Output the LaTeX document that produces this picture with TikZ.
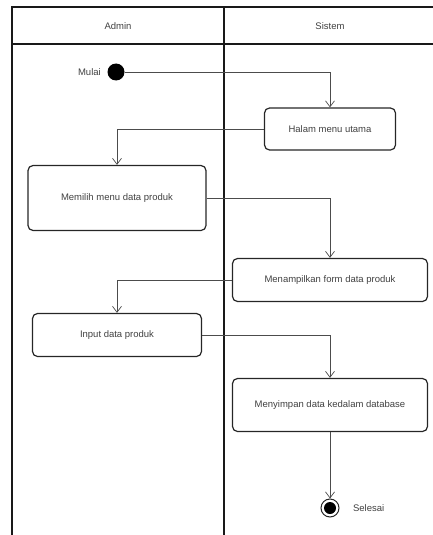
\documentclass[tikz,border=0pt]{standalone}
\usepackage{fontspec}
\setmainfont{Liberation Sans}
\usetikzlibrary{arrows.meta,positioning}

\begin{document}
\begin{tikzpicture}[x=1pt,y=-1pt,
    every node/.style={font=\fontsize{9.5}{11}\selectfont,text=black!75},
    act/.style={draw=black!85,rounded corners=5pt,line width=1.2pt,inner sep=2pt},
    flow/.style={->,>={Straight Barb[length=6pt,width=9pt]},draw=black!70,line width=0.7pt},
    lane/.style={draw=black!90,line width=1.4pt}]
    \useasboundingbox (0,0) rectangle (433,535);

    % swimlanes
    \draw[lane] (12,535) -- (12,7) -- (433,7);
    \draw[lane] (12,44) -- (433,44);
    \draw[lane] (224,7) -- (224,535);

    \path
    (118,26) node (admin) {Admin}
    (330,26) node (sistem) {Sistem}
    ;

    \path
    (116,72) node[circle,fill=black,minimum size=17pt,inner sep=0] (start) {}
    (330,129) node[act,minimum width=131pt,minimum height=42pt] (halam) {Halam menu utama}
    (117,198) node[act,minimum width=178pt,minimum height=65pt] (memilih) {Memilih menu data produk}
    (330,280) node[act,minimum width=195pt,minimum height=43pt] (tampil) {Menampilkan form data produk}
    (117,335) node[act,minimum width=169pt,minimum height=43pt] (input) {Input data produk}
    (330,405) node[act,minimum width=195pt,minimum height=53pt] (simpan) {Menyimpan data kedalam database}
    (330,508) node[circle,draw=black!85,line width=1pt,minimum size=18pt,inner sep=0] (selesai) {}
    ;
    \fill (selesai.center) circle (6pt);

    \node[left=3pt of start] (mulai) {Mulai};
    \node[right=10pt of selesai] (selesailbl) {Selesai};

    \draw[flow] (start) -| (halam);
    \draw[flow] (halam.west) -| (memilih);
    \draw[flow] (memilih.east) -| (tampil);
    \draw[flow] (tampil.west) -| (input);
    \draw[flow] (input.east) -| (simpan);
    \draw[flow] (simpan) -- (selesai);
\end{tikzpicture}
\end{document}
